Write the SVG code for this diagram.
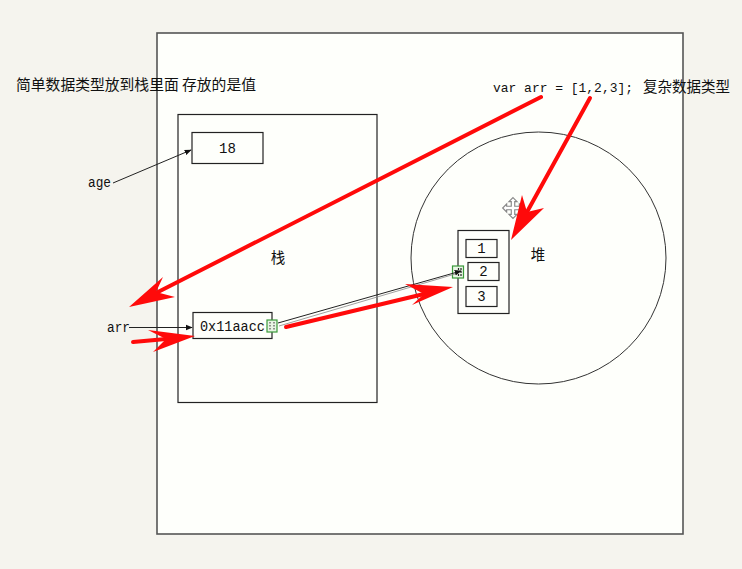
<svg xmlns="http://www.w3.org/2000/svg" width="742" height="569" viewBox="0 0 742 569">
<style>
.box{fill:none;stroke:#222;stroke-width:1.2}
.mono{font-family:"Liberation Mono","DejaVu Sans Mono",monospace;fill:#111}
.cjk{font-family:"Noto Sans CJK SC","Noto Sans",sans-serif;fill:#111}
.red{fill:none;stroke:#ff0a0a;stroke-width:4;stroke-linecap:round}
.redh{fill:#ff0a0a}
.port{fill:#e9f5e5;stroke:#3a9a3a;stroke-width:1.2}
.conn{fill:none;stroke:#222;stroke-width:1}
</style>
<defs>
<marker id="ah" viewBox="0 0 10 10" refX="9" refY="5" markerWidth="7" markerHeight="7" orient="auto" markerUnits="userSpaceOnUse">
<path d="M0,1 L10,5 L0,9 Z" fill="#111"/>
</marker>
</defs>
<rect x="0" y="0" width="742" height="569" fill="#f5f4ee"/>
<g id="frame">
<rect x="157" y="33" width="526" height="501" fill="#fefffb" stroke="#555" stroke-width="1.6"/>
</g>
<g id="title">
<text class="cjk" x="16" y="90" font-size="15" textLength="240" lengthAdjust="spacingAndGlyphs">简单数据类型放到栈里面 存放的是值</text>
</g>
<g id="code-label">
<text class="mono" x="493" y="92" font-size="13.5" textLength="140" lengthAdjust="spacingAndGlyphs">var arr = [1,2,3];</text>
<text class="cjk" x="643" y="92" font-size="15" textLength="87" lengthAdjust="spacingAndGlyphs">复杂数据类型</text>
</g>
<g id="stack">
<rect class="box" x="178" y="114.5" width="199" height="288"/>
<text class="cjk" x="278" y="263" font-size="14.5" text-anchor="middle">栈</text>
</g>
<g id="age-value">
<rect class="box" x="192" y="132.5" width="71" height="31"/>
<text class="mono" x="227.5" y="153" font-size="14" text-anchor="middle">18</text>
</g>
<g id="age-label">
<text class="mono" x="88" y="187" font-size="14" textLength="23" lengthAdjust="spacingAndGlyphs">age</text>
</g>
<g id="arr-label">
<text class="mono" x="107" y="332" font-size="14" textLength="23" lengthAdjust="spacingAndGlyphs">arr</text>
</g>
<g id="arr-ref">
<rect class="box" x="193" y="312.5" width="79" height="26"/>
<text class="mono" x="200" y="330.5" font-size="14" textLength="65" lengthAdjust="spacingAndGlyphs">0x11aacc</text>
<rect class="port" x="267" y="320" width="10" height="12"/>
<path d="M270,322 v8 M274,322 v8" stroke="#333" stroke-width="1" stroke-dasharray="1.5,1.5"/>
</g>
<g id="heap">
<ellipse cx="538.5" cy="258" rx="127.5" ry="126" fill="none" stroke="#333" stroke-width="1"/>
<text class="cjk" x="538" y="260" font-size="14.5" text-anchor="middle">堆</text>
</g>
<g id="array">
<rect class="box" x="458" y="230.5" width="51" height="83"/>
<rect class="box" x="466" y="239.5" width="31" height="18"/>
<text class="mono" x="481.5" y="253" font-size="14" text-anchor="middle">1</text>
<rect class="box" x="468" y="262.5" width="31" height="18"/>
<text class="mono" x="483.5" y="276" font-size="14" text-anchor="middle">2</text>
<rect class="box" x="466" y="286.5" width="31" height="20"/>
<text class="mono" x="481.5" y="301" font-size="14" text-anchor="middle">3</text>
<rect class="port" x="452.5" y="266" width="11" height="12"/>
<path d="M458.5,268 v8 M461,268 v8" stroke="#222" stroke-width="1.2" stroke-dasharray="2,1"/>
</g>
<g id="connectors">
<line class="conn" x1="113" y1="183" x2="191" y2="150" marker-end="url(#ah)"/>
<line class="conn" x1="129" y1="327.5" x2="192" y2="327.5" marker-end="url(#ah)"/>
<line class="conn" x1="278" y1="323" x2="461" y2="271" marker-end="url(#ah)"/>
<line x1="279" y1="326" x2="455" y2="274" stroke="#888" stroke-width="0.8"/>
</g>
<g id="cursor">
<path transform="translate(513,208) scale(1.15)" d="M0,-9 L3.5,-5.5 L1.5,-5.5 L1.5,-1.5 L5.5,-1.5 L5.5,-3.5 L9,0 L5.5,3.5 L5.5,1.5 L1.5,1.5 L1.5,5.5 L3.5,5.5 L0,9 L-3.5,5.5 L-1.5,5.5 L-1.5,1.5 L-5.5,1.5 L-5.5,3.5 L-9,0 L-5.5,-3.5 L-5.5,-1.5 L-1.5,-1.5 L-1.5,-5.5 L-3.5,-5.5 Z" fill="#fff" stroke="#888" stroke-width="1"/>
</g>
<g id="annotations">
<line class="red" x1="541" y1="97" x2="158" y2="292"/>
<path class="redh" d="M129,307 L163,277 L156,292 L175,297 Z"/>
<line class="red" x1="590" y1="98" x2="527" y2="212"/>
<path class="redh" d="M511,240 L522,195 L527,212 L544,208 Z"/>
<line class="red" x1="133" y1="342" x2="166" y2="339"/>
<path class="redh" d="M195,336 L148,330 L166,339 L153,352 Z"/>
<line class="red" x1="286" y1="327" x2="424" y2="294"/>
<path class="redh" d="M453,287 L405,284 L424,294 L412,305 Z"/>
</g>
</svg>
